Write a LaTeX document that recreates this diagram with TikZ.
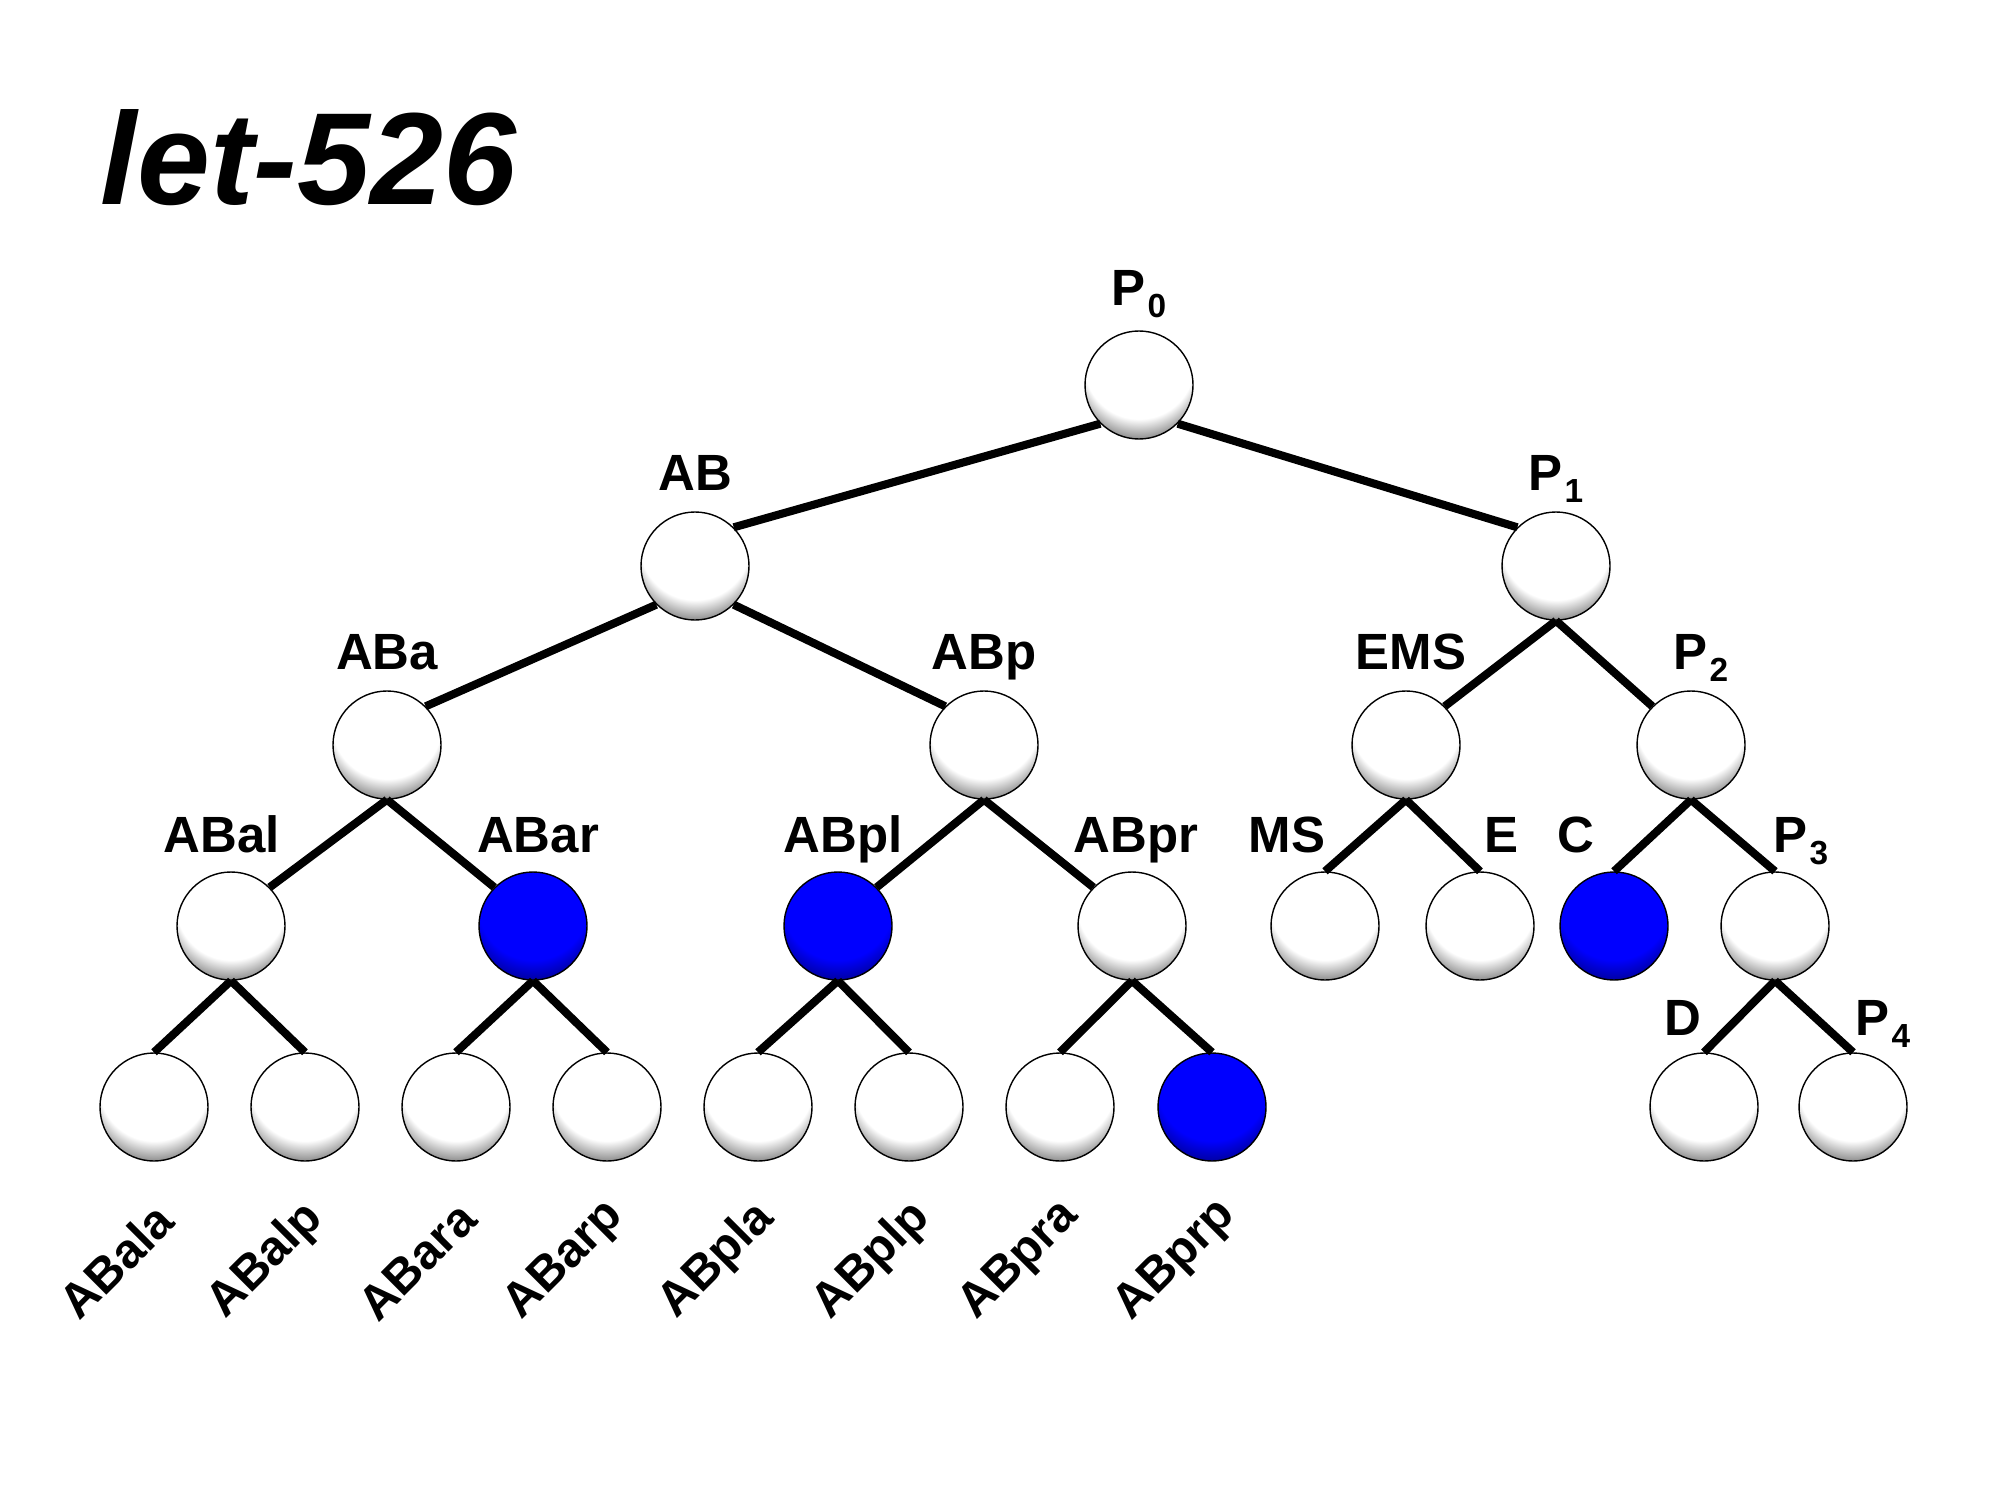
\documentclass[tikz,border=0pt]{standalone}
\usepackage{fontspec}
\setmainfont{Liberation Sans}
\usetikzlibrary{positioning}
\newcommand{\low}[1]{\hspace{0.5pt}\raisebox{-3.4pt}{\fontsize{9.5pt}{10pt}\selectfont #1}}
\pgfdeclareradialshading{whiteball}{\pgfpoint{0bp}{20bp}}{color(0bp)=(white); color(25.5bp)=(white); color(33bp)=(black!50); color(50bp)=(black!50)}
\pgfdeclareradialshading{blueball}{\pgfpoint{0bp}{20bp}}{color(0bp)=(blue); color(25.5bp)=(blue); color(33bp)=(blue!60!black); color(50bp)=(blue!60!black)}

\begin{document}
\begin{tikzpicture}[
    cell/.style={circle, draw=black, line width=0.4pt, minimum size=1.08cm, inner sep=0pt, shade, shading=whiteball},
    hit/.style={cell, shading=blueball},
    cellname/.style={font=\fontsize{14.5pt}{17pt}\selectfont\bfseries, inner sep=0pt, text depth=0pt},
    leafname/.style={font=\fontsize{13.8pt}{15pt}\selectfont\bfseries, inner sep=0pt, rotate=45},
    branch/.style={line width=2.3pt}
  ]
        \useasboundingbox (0,0) rectangle (19.90,-14.93);

        \node[anchor=base west, inner sep=0pt, font=\fontsize{37.3pt}{40pt}\selectfont\bfseries\itshape] (title) at (1.00,-2.05) {let-526};

        \node[cell] (p0) at (11.39, -3.85) {};

        \node[cell] (ab) at (6.95, -5.66) {};
        \node[cell] (p1) at (15.56, -5.66) {};

        \node[cell] (aba) at (3.87, -7.45) {};
        \node[cell] (abp) at (9.84, -7.45) {};
        \node[cell] (ems) at (14.06, -7.45) {};
        \node[cell] (p2) at (16.91, -7.45) {};

        \node[cell] (abal) at (2.31, -9.26) {};
        \node[hit] (abar) at (5.33, -9.26) {};
        \node[hit] (abpl) at (8.38, -9.26) {};
        \node[cell] (abpr) at (11.32, -9.26) {};
        \node[cell] (ms) at (13.25, -9.26) {};
        \node[cell] (e) at (14.80, -9.26) {};
        \node[hit] (c) at (16.14, -9.26) {};
        \node[cell] (p3) at (17.75, -9.26) {};

        \node[cell] (abala) at (1.54, -11.07) {};
        \node[cell] (abalp) at (3.05, -11.07) {};
        \node[cell] (abara) at (4.56, -11.07) {};
        \node[cell] (abarp) at (6.07, -11.07) {};
        \node[cell] (abpla) at (7.58, -11.07) {};
        \node[cell] (abplp) at (9.09, -11.07) {};
        \node[cell] (abpra) at (10.60, -11.07) {};
        \node[hit] (abprp) at (12.12, -11.07) {};
        \node[cell] (d) at (17.04, -11.07) {};
        \node[cell] (p4) at (18.53, -11.07) {};

        % names above the cells
        \node[cellname, above=0.24 of p0] (n-p0) {P\low{0}};
        \node[cellname, above=0.2 of ab] (n-ab) {AB};
        \node[cellname, above=0.2 of p1] (n-p1) {P\low{1}};
        \node[cellname, above=0.2 of aba] (n-aba) {ABa};
        \node[cellname, above=0.2 of abp] (n-abp) {ABp};
        \node[cellname, above=0.2 of ems, xshift=0.05cm] (n-ems) {EMS};
        \node[cellname, above=0.2 of p2, xshift=0.1cm] (n-p2) {P\low{2}};
        \node[cellname, above=0.18 of abal, xshift=-0.09cm] (n-abal) {ABal};
        \node[cellname, above=0.18 of abar, xshift=0.05cm] (n-abar) {ABar};
        \node[cellname, above=0.18 of abpl, xshift=0.05cm] (n-abpl) {ABpl};
        \node[cellname, above=0.18 of abpr, xshift=0.04cm] (n-abpr) {ABpr};
        \node[cellname, above=0.18 of ms, xshift=-0.38cm] (n-ms) {MS};
        \node[cellname, above=0.18 of e, xshift=0.21cm] (n-e) {E};
        \node[cellname, above=0.18 of c, xshift=-0.38cm] (n-c) {C};
        \node[cellname, above=0.18 of p3, xshift=0.26cm] (n-p3) {P\low{3}};
        \node[cellname, above=0.16 of d, xshift=-0.21cm] (n-d) {D};
        \node[cellname, above=0.16 of p4, xshift=0.30cm] (n-p4) {P\low{4}};

        % names below the last row
        \node[leafname] (n-abala) at (1.16, -12.61) {ABala};
        \node[leafname] (n-abalp) at (2.66, -12.61) {ABalp};
        \node[leafname] (n-abara) at (4.17, -12.61) {ABara};
        \node[leafname] (n-abarp) at (5.65, -12.61) {ABarp};
        \node[leafname] (n-abpla) at (7.17, -12.61) {ABpla};
        \node[leafname] (n-abplp) at (8.72, -12.61) {ABplp};
        \node[leafname] (n-abpra) at (10.20, -12.61) {ABpra};
        \node[leafname] (n-abprp) at (11.76, -12.61) {ABprp};

        \draw[branch] (p0.south west) -- (ab.north east);
        \draw[branch] (p0.south east) -- (p1.north west);

        \draw[branch] (ab.south west) -- (aba.north east);
        \draw[branch] (ab.south east) -- (abp.north west);
        \draw[branch] (p1.south) -- (ems.north east);
        \draw[branch] (p1.south) -- (p2.north west);

        \draw[branch] (aba.south) -- (abal.north east);
        \draw[branch] (aba.south) -- (abar.north west);
        \draw[branch] (abp.south) -- (abpl.north east);
        \draw[branch] (abp.south) -- (abpr.north west);
        \draw[branch] (ems.south) -- (ms.north);
        \draw[branch] (ems.south) -- (e.north);
        \draw[branch] (p2.south) -- (c.north);
        \draw[branch] (p2.south) -- (p3.north);

        \draw[branch] (abal.south) -- (abala.north);
        \draw[branch] (abal.south) -- (abalp.north);
        \draw[branch] (abar.south) -- (abara.north);
        \draw[branch] (abar.south) -- (abarp.north);
        \draw[branch] (abpl.south) -- (abpla.north);
        \draw[branch] (abpl.south) -- (abplp.north);
        \draw[branch] (abpr.south) -- (abpra.north);
        \draw[branch] (abpr.south) -- (abprp.north);
        \draw[branch] (p3.south) -- (d.north);
        \draw[branch] (p3.south) -- (p4.north);
      \end{tikzpicture}
\end{document}
